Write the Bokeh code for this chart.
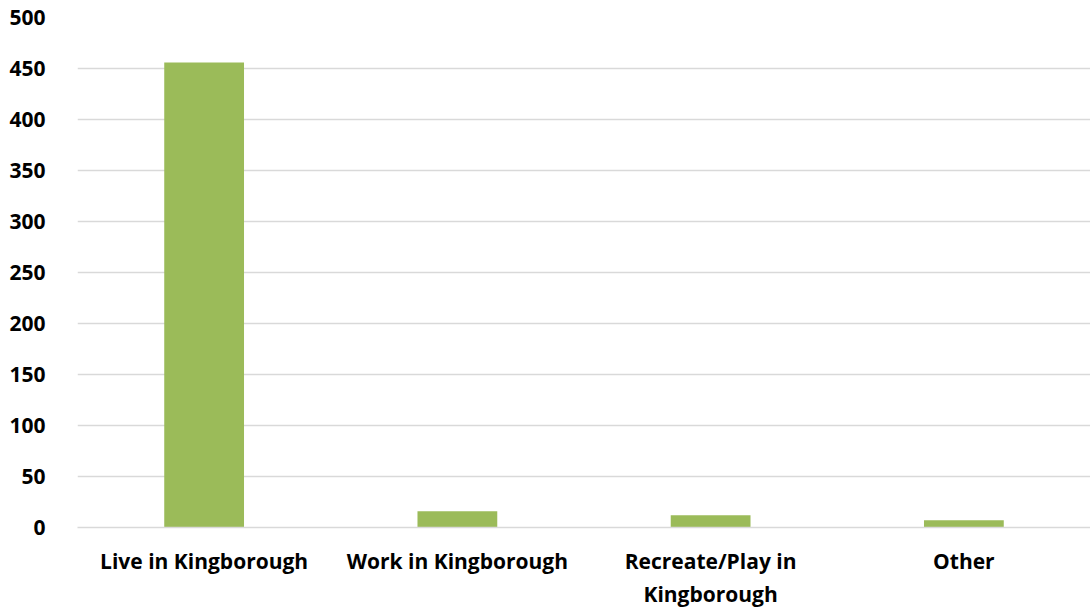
from bokeh.plotting import figure
from bokeh.models import FactorRange, Range1d
from bokeh.embed import file_html
from bokeh.resources import INLINE

categories = ["Live in Kingborough", "Work in Kingborough", "Recreate/Play in\nKingborough", "Other"]
counts = [456, 16, 12, 7]
y_ticks = [0, 50, 100, 150, 200, 250, 300, 350, 400, 450, 500]

p = figure(x_range=FactorRange(*categories, range_padding=0), y_range=Range1d(0, 500),
           width=1090, height=610, output_backend="svg", toolbar_location=None,
           min_border_left=77, min_border_right=0, min_border_top=17, min_border_bottom=83)
p.vbar(x=categories, top=counts, width=0.315, color="#9BBB59", line_color=None)

p.outline_line_color = None
p.background_fill_color = "white"
p.border_fill_color = "white"
p.xgrid.grid_line_color = None
p.ygrid.grid_line_color = "#d9d9d9"
p.ygrid.grid_line_width = 1.5
p.ygrid.ticker = y_ticks
p.yaxis.ticker = y_ticks

for ax in (p.xaxis, p.yaxis):
    ax.axis_line_color = None
    ax.major_tick_line_color = None
    ax.minor_tick_line_color = None
    ax.major_label_text_font = "Open Sans"
    ax.major_label_text_font_style = "bold"
    ax.major_label_text_font_size = "21px"
    ax.major_label_text_color = "black"
p.xaxis.axis_line_color = "#d9d9d9"
p.xaxis.axis_line_width = 1.5
p.xaxis.major_label_text_line_height = 1.18
p.yaxis.major_label_standoff = 26
p.xaxis.major_label_standoff = 13

open("out.html", "w").write(file_html(p, INLINE))
